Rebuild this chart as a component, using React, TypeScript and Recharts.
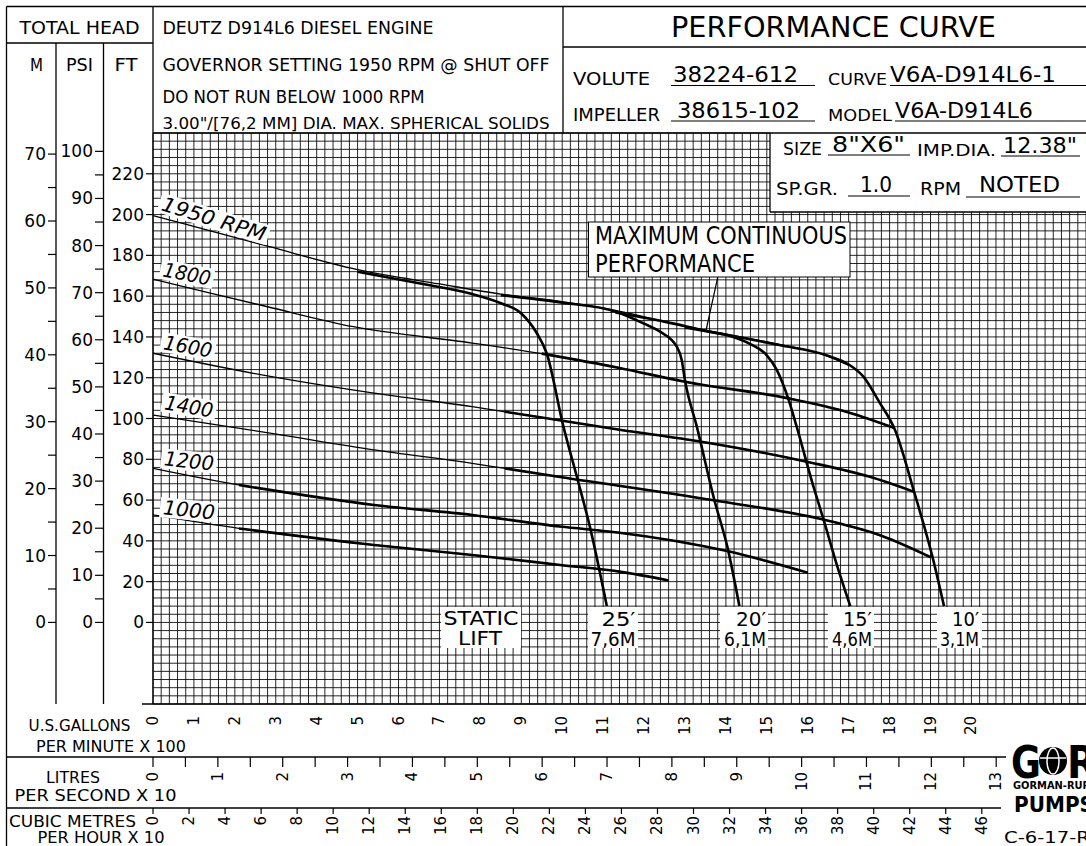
import React from 'react';
import { ComposedChart, Line, XAxis, YAxis, CartesianGrid } from 'recharts';

const W = 1086;
const H = 846;
const FONT = '"DejaVu Sans", sans-serif';
const INK = '#000';

// conversions that line the extra scales up with FT and US GPM x 100
const FT_PER_PSI = 2.31;
const FT_PER_M = 3.2808;
const GPM_PER_LPS = 1.58503; // (gpm x 100) per (l/s x 10)
const GPM_PER_M3H = 0.44029; // (gpm x 100) per (m3/h x 10)

const FT_DOMAIN = [-40, 240];
const GPM_DOMAIN = [0, 22.8];

const FT_TICKS = [0, 20, 40, 60, 80, 100, 120, 140, 160, 180, 200, 220];
const PSI_TICKS = [0, 5, 10, 15, 20, 25, 30, 35, 40, 45, 50, 55, 60, 65, 70, 75, 80, 85, 90, 95, 100];
const M_TICKS = [0, 5, 10, 15, 20, 25, 30, 35, 40, 45, 50, 55, 60, 65, 70];
const GPM_TICKS = [0, 1, 2, 3, 4, 5, 6, 7, 8, 9, 10, 11, 12, 13, 14, 15, 16, 17, 18, 19, 20];
const LPS_TICKS = [0, 0.5, 1, 1.5, 2, 2.5, 3, 3.5, 4, 4.5, 5, 5.5, 6, 6.5, 7, 7.5, 8, 8.5, 9, 9.5, 10, 10.5, 11, 11.5, 12, 12.5, 13];
const M3H_TICKS = [0, 2, 4, 6, 8, 10, 12, 14, 16, 18, 20, 22, 24, 26, 28, 30, 32, 34, 36, 38, 40, 42, 44, 46];

// graph paper: 20 gpm by 4 ft cells
const GRID_X = Array.from({ length: 115 }, (_, i) => i / 5);
const GRID_Y = Array.from({ length: 71 }, (_, i) => -40 + i * 4);

// head (ft) vs flow (US gpm x 100)
const RPM_1950 = [[0, 199.5], [1.4, 192], [2.8, 184.5], [5.0, 173], [7.0, 166], [8.5, 161], [10.0, 157.3], [11.3, 153], [13.0, 145.2], [14.1, 141], [15.3, 136.3], [16.4, 131.2], [17.0, 126]];
const RPM_1800 = [[0, 168.3], [1.4, 161.5], [2.8, 154.8], [4.9, 145], [7.8, 137], [9.5, 131.8], [11.4, 124.8], [13.0, 118], [15.5, 110], [17.0, 103], [18.1, 95.5]];
const RPM_1600 = [[0, 132], [2.9, 120.5], [5.4, 112.4], [7.8, 105.8], [8.6, 103.3], [9.5, 100.5], [11.4, 94.5], [13.4, 88.6], [16.0, 78.7], [17.5, 71.5], [18.6, 64]];
const RPM_1400 = [[0, 101.7], [2.9, 92.7], [5.4, 84.6], [7.8, 78], [8.6, 75.5], [9.95, 71.3], [13.7, 59.9], [16.5, 49.9], [17.8, 42.5], [19.0, 32]];
const RPM_1200 = [[0, 75.6], [2.1, 67.4], [5.4, 57.6], [7.8, 52.7], [9.95, 47], [11.4, 44], [14.0, 35.1], [16.0, 24.4]];
const RPM_1000 = [[0, 52.7], [2.1, 46.1], [5.4, 38], [7.8, 33.1], [9.95, 28.2], [11.4, 24.9], [12.6, 20.6]];

// static lift limits (thick)
const LIFT_25 = [[5.0, 172], [6.5, 166.3], [7.8, 161], [8.5, 156.5], [9.0, 151.5], [9.38, 141.8], [9.62, 132], [10.03, 96], [10.36, 71.3], [10.68, 46.6], [11.09, 8]];
const LIFT_20 = [[8.5, 160.5], [10.0, 156.8], [11.3, 152.5], [12.0, 146.5], [12.39, 142.6], [12.8, 135.2], [12.92, 128.7], [13.0, 118.8], [13.29, 96], [13.72, 59.9], [14.04, 36.7], [14.33, 8]];
const LIFT_15 = [[11.3, 152], [12.5, 147.5], [13.5, 143], [14.1, 140.5], [14.6, 136.5], [15.0, 131], [15.24, 124], [15.52, 110], [15.73, 96], [16.09, 70], [16.4, 49.5], [16.7, 29], [17.04, 8]];
const LIFT_10 = [[13.0, 144.7], [14.1, 140.7], [15.3, 136], [16.46, 131], [17.0, 126.5], [17.36, 120.5], [17.75, 108], [18.14, 94], [18.6, 64], [19.05, 32], [19.33, 8]];

const pts = (rows: number[][]) => rows.map(([g, ft]) => ({ g, ft }));

const RPM_CURVES = [
  { rpm: '1950', rows: RPM_1950, thickFrom: null as number | null },
  { rpm: '1800', rows: RPM_1800, thickFrom: 9.5 },
  { rpm: '1600', rows: RPM_1600, thickFrom: 8.6 },
  { rpm: '1400', rows: RPM_1400, thickFrom: 8.6 },
  { rpm: '1200', rows: RPM_1200, thickFrom: 2.1 },
  { rpm: '1000', rows: RPM_1000, thickFrom: 2.1 },
];
const LIFT_CURVES = [
  { lift: '25', rows: LIFT_25 },
  { lift: '20', rows: LIFT_20 },
  { lift: '15', rows: LIFT_15 },
  { lift: '10', rows: LIFT_10 },
];

// recharts hands the grid generators either a d3 scale or its own wrapper
function project(s: any, v: number): number {
  if (!s) return NaN;
  if (typeof s === 'function') return s(v);
  if (typeof s.map === 'function') {
    const r = s.map(v);
    if (typeof r === 'number') return r;
  }
  if (typeof s.domain === 'function' && typeof s.range === 'function') {
    const [d0, d1] = s.domain();
    const [r0, r1] = s.range();
    return r0 + ((v - d0) / (d1 - d0)) * (r1 - r0);
  }
  return NaN;
}
const gridPoints = (axis: any, values: number[]) => {
  try {
    return values.map((v) => project(axis && axis.scale, v)).filter((c) => Number.isFinite(c));
  } catch (e) {
    return [];
  }
};

function LeftTick(props: any) {
  const { x, y, payload, every } = props;
  if (payload.value % every !== 0) return <g />;
  return (
    <text x={x} y={y} textAnchor="end" dominantBaseline="central" fontSize={17} fontFamily={FONT} fill={INK}>
      {payload.value}
    </text>
  );
}

function RotTick(props: any) {
  const { x, y, payload, every } = props;
  const v = payload.value;
  if (every && Math.abs(v % every) > 1e-6) return <g />;
  return (
    <text x={x} y={y} transform={`rotate(-90 ${x} ${y})`} textAnchor="end" dominantBaseline="central"
      fontSize={15} fontFamily={FONT} fill={INK}>
      {v}
    </text>
  );
}

function T({ x, y, size, len, anchor = 'start', weight, italic, children }: any) {
  return (
    <text x={x} y={y} fontSize={size} textLength={len} lengthAdjust="spacingAndGlyphs" textAnchor={anchor}
      fontWeight={weight} fontStyle={italic ? 'italic' : undefined} fontFamily={FONT} fill={INK}>
      {children}
    </text>
  );
}

function RpmTag({ cx, cy, angle, len, text }: any) {
  return (
    <g transform={`translate(${cx} ${cy}) rotate(${angle})`}>
      <rect x={-len / 2 - 3} y={-10} width={len + 6} height={20} fill="#fff" />
      <T x={0} y={7} size={20} len={len} anchor="middle" italic>{text}</T>
    </g>
  );
}

function LiftTag({ x, w, right, top, bottom }: any) {
  return (
    <g>
      <rect x={x} y={607} width={w} height={41} fill="#fff" />
      <T x={right} y={626} size={19} len={top[1]} anchor="end">{top[0]}</T>
      <T x={right} y={646} size={19} len={bottom[1]} anchor="end">{bottom[0]}</T>
    </g>
  );
}

function Overlay() {
  return (
    <svg width={W} height={H} style={{ position: 'absolute', left: 0, top: 0 }}>
      {/* header box over the top right of the grid */}
      <rect x={770} y={130} width={W - 770} height={82} fill="#fff" />
      <g stroke={INK} strokeWidth={1.3}>
        <line x1={6.5} y1={6.5} x2={W} y2={6.5} />
        <line x1={6.5} y1={6.5} x2={6.5} y2={H} />
        <line x1={6.5} y1={43} x2={153} y2={43} />
        <line x1={56} y1={43} x2={56} y2={704} />
        <line x1={103.5} y1={43} x2={103.5} y2={704} />
        <line x1={153} y1={6.5} x2={153} y2={704} />
        <line x1={563} y1={6.5} x2={563} y2={133} />
        <line x1={563} y1={47} x2={W} y2={47} />
        <line x1={153} y1={133} x2={W} y2={133} />
        <line x1={770} y1={133} x2={770} y2={212} />
        <line x1={770} y1={212} x2={W} y2={212} />
        <line x1={142} y1={704} x2={W} y2={704} />
        <line x1={6.5} y1={757} x2={1006} y2={757} />
        <line x1={6.5} y1={808} x2={1001} y2={808} />
      </g>

      <T x={79.5} y={34} size={18} len={120} anchor="middle">TOTAL HEAD</T>
      <T x={36.5} y={71} size={18} len={13} anchor="middle">M</T>
      <T x={79.5} y={71} size={18} len={27} anchor="middle">PSI</T>
      <T x={126} y={71} size={18} len={23} anchor="middle">FT</T>

      <T x={162.5} y={34} size={18} len={271}>DEUTZ D914L6 DIESEL ENGINE</T>
      <T x={162.5} y={71} size={18} len={387}>GOVERNOR SETTING 1950 RPM @ SHUT OFF</T>
      <T x={162.5} y={103} size={18} len={262}>DO NOT RUN BELOW 1000 RPM</T>
      <T x={162.5} y={129} size={16} len={387}>3.00"/[76,2 MM] DIA. MAX. SPHERICAL SOLIDS</T>

      <T x={671} y={37} size={29} len={325}>PERFORMANCE CURVE</T>
      <g stroke={INK} strokeWidth={1}>
        <line x1={671} y1={85.5} x2={815} y2={85.5} />
        <line x1={890} y1={85.5} x2={W} y2={85.5} />
        <line x1={671} y1={121} x2={815} y2={121} />
        <line x1={895} y1={121} x2={W} y2={121} />
        <line x1={828} y1={155} x2={910} y2={155} />
        <line x1={1001} y1={156} x2={1080} y2={156} />
        <line x1={848} y1={196} x2={910} y2={196} />
        <line x1={966} y1={197} x2={1080} y2={197} />
      </g>
      <T x={573} y={85} size={18} len={77}>VOLUTE</T>
      <T x={673} y={82} size={22} len={125}>38224-612</T>
      <T x={828} y={84.5} size={15} len={59}>CURVE</T>
      <T x={890} y={82} size={22} len={166}>V6A-D914L6-1</T>
      <T x={573} y={121} size={18} len={87}>IMPELLER</T>
      <T x={677} y={117.5} size={22} len={123}>38615-102</T>
      <T x={828} y={121} size={15} len={64}>MODEL</T>
      <T x={895} y={117.5} size={22} len={138}>V6A-D914L6</T>
      <T x={783} y={155} size={17} len={39}>SIZE</T>
      <T x={832} y={151.5} size={21} len={73}>8"X6"</T>
      <T x={917} y={156} size={15} len={79}>IMP.DIA.</T>
      <T x={1003} y={152.5} size={21} len={74}>12.38"</T>
      <T x={776} y={195} size={17} len={62}>SP.GR.</T>
      <T x={860} y={192} size={21} len={32}>1.0</T>
      <T x={920} y={195} size={17} len={41}>RPM</T>
      <T x={979} y={192} size={21} len={81}>NOTED</T>

      {/* curve labels */}
      <RpmTag cx={214} cy={219} angle={17} len={108} text="1950 RPM" />
      <RpmTag cx={187} cy={274} angle={11} len={48} text="1800" />
      <RpmTag cx={188} cy={346.5} angle={10} len={49} text="1600" />
      <RpmTag cx={189} cy={406.5} angle={10} len={49} text="1400" />
      <RpmTag cx={189} cy={461} angle={6} len={50} text="1200" />
      <RpmTag cx={189} cy={510} angle={6} len={52} text="1000" />

      <rect x={588.5} y={222} width={261.5} height={55} fill="#fff" stroke={INK} strokeWidth={1} />
      <T x={595} y={243.5} size={24} len={252}>MAXIMUM  CONTINUOUS</T>
      <T x={595} y={272} size={24} len={160}>PERFORMANCE</T>
      <line x1={717.7} y1={277.3} x2={705.9} y2={331} stroke={INK} strokeWidth={1.2} />

      <rect x={441} y={607} width={80} height={41} fill="#fff" />
      <T x={481} y={625} size={20} len={75} anchor="middle">STATIC</T>
      <T x={480} y={645} size={20} len={44} anchor="middle">LIFT</T>
      <LiftTag x={588} w={50} right={635.5} top={['25′', 34]} bottom={['7,6M', 45]} />
      <LiftTag x={720} w={48} right={766} top={['20′', 30]} bottom={['6,1M', 42]} />
      <LiftTag x={828} w={46} right={872} top={['15′', 29]} bottom={['4,6M', 40]} />
      <LiftTag x={937} w={45} right={979} top={['10′', 27]} bottom={['3,1M', 39]} />

      {/* bottom scale captions */}
      <T x={79.5} y={731} size={15} len={102} anchor="middle">U.S.GALLONS</T>
      <T x={36} y={752} size={15} len={150}>PER MINUTE X 100</T>
      <T x={73} y={783} size={15} len={54} anchor="middle">LITRES</T>
      <T x={14.5} y={800.5} size={15} len={162}>PER SECOND X 10</T>
      <T x={9} y={827} size={15} len={127}>CUBIC METRES</T>
      <T x={37.5} y={843} size={15} len={127}>PER HOUR X 10</T>

      {/* maker's mark */}
      <T x={1011} y={778} size={44} len={30} weight="bold">G</T>
      <circle cx={1053} cy={761} r={14} fill={INK} />
      <ellipse cx={1053} cy={761} rx={6} ry={13} fill="none" stroke="#fff" strokeWidth={1.5} />
      <line x1={1040} y1={758} x2={1066} y2={758} stroke="#fff" strokeWidth={1.5} />
      <T x={1067} y={778} size={44} len={30} weight="bold">R</T>
      <T x={1013} y={789} size={10} len={84} weight="bold">GORMAN-RUPP</T>
      <T x={1014} y={812} size={22} len={80} weight="bold">PUMPS</T>
      <T x={1004} y={843} size={16} len={86}>C-6-17-R</T>
    </svg>
  );
}

// rows for the flow scales that carry no curve of their own
const FLOW_ROWS = GPM_TICKS.map((g) => ({ g }));

export default function App() {
  const thin = 1.3;
  const thick = 2.6;
  return (
    <div style={{ position: 'absolute', left: 0, top: 0, width: W, height: H, overflow: 'hidden', background: '#fff' }}>
      <ComposedChart width={W} height={H} data={FLOW_ROWS} margin={{ top: 133, right: 0, bottom: 0, left: 7 }}>
        {/* ids sort in stacking order: a_ sits next to the plot */}
        <XAxis xAxisId="a_gpm" type="number" dataKey="g" domain={GPM_DOMAIN} ticks={GPM_TICKS} interval={0}
          allowDataOverflow height={53} axisLine={false} tickLine={false} tickSize={0} tickMargin={12}
          tick={(p: any) => <RotTick {...p} />} />
        <XAxis xAxisId="b_lps" type="number" dataKey="g" domain={[0, GPM_DOMAIN[1] / GPM_PER_LPS]} ticks={LPS_TICKS} interval={0}
          allowDataOverflow height={51} axisLine={false} tickLine={{ stroke: INK, strokeWidth: 1.2 }} tickSize={10} tickMargin={5}
          tick={(p: any) => <RotTick {...p} every={1} />} />
        <XAxis xAxisId="c_m3h" type="number" dataKey="g" domain={[0, GPM_DOMAIN[1] / GPM_PER_M3H]} ticks={M3H_TICKS} interval={0}
          allowDataOverflow height={38} axisLine={false} tickLine={{ stroke: INK, strokeWidth: 1.2 }} tickSize={6} tickMargin={2}
          tick={(p: any) => <RotTick {...p} />} />

        <YAxis yAxisId="a_ft" type="number" domain={FT_DOMAIN} ticks={FT_TICKS} interval={0} allowDataOverflow
          width={50} axisLine={false} tickLine={{ stroke: INK, strokeWidth: 1.2 }} tickSize={7} tickMargin={2}
          tick={(p: any) => <LeftTick {...p} every={20} />} />
        <YAxis yAxisId="b_psi" type="number" domain={[FT_DOMAIN[0] / FT_PER_PSI, FT_DOMAIN[1] / FT_PER_PSI]} ticks={PSI_TICKS}
          interval={0} allowDataOverflow width={47} axisLine={false} tickLine={{ stroke: INK, strokeWidth: 1.2 }}
          tickSize={8} tickMargin={2} tick={(p: any) => <LeftTick {...p} every={10} />} />
        <YAxis yAxisId="c_m" type="number" domain={[FT_DOMAIN[0] / FT_PER_M, FT_DOMAIN[1] / FT_PER_M]} ticks={M_TICKS}
          interval={0} allowDataOverflow width={49} axisLine={false} tickLine={{ stroke: INK, strokeWidth: 1.2 }}
          tickSize={8} tickMargin={2} tick={(p: any) => <LeftTick {...p} every={10} />} />

        <CartesianGrid xAxisId="a_gpm" yAxisId="a_ft" stroke={INK} strokeOpacity={0.85} strokeWidth={1}
          verticalCoordinatesGenerator={({ xAxis }: any) => gridPoints(xAxis, GRID_X)}
          horizontalCoordinatesGenerator={({ yAxis }: any) => gridPoints(yAxis, GRID_Y)} />

        {RPM_CURVES.map((c) => (
          <Line key={c.rpm} xAxisId="a_gpm" yAxisId="a_ft" data={pts(c.rows)} dataKey="ft" type="monotone"
            stroke={INK} strokeWidth={thin} dot={false} isAnimationActive={false} />
        ))}
        {RPM_CURVES.filter((c) => c.thickFrom != null).map((c) => (
          <Line key={c.rpm + '-op'} xAxisId="a_gpm" yAxisId="a_ft" data={pts(c.rows).filter((p) => p.g >= (c.thickFrom as number))}
            dataKey="ft" type="monotone" stroke={INK} strokeWidth={thick} dot={false} isAnimationActive={false} />
        ))}
        {LIFT_CURVES.map((c) => (
          <Line key={c.lift} xAxisId="a_gpm" yAxisId="a_ft" data={pts(c.rows)} dataKey="ft" type="monotone"
            stroke={INK} strokeWidth={thick} dot={false} isAnimationActive={false} />
        ))}
      </ComposedChart>
      <Overlay />
    </div>
  );
}
